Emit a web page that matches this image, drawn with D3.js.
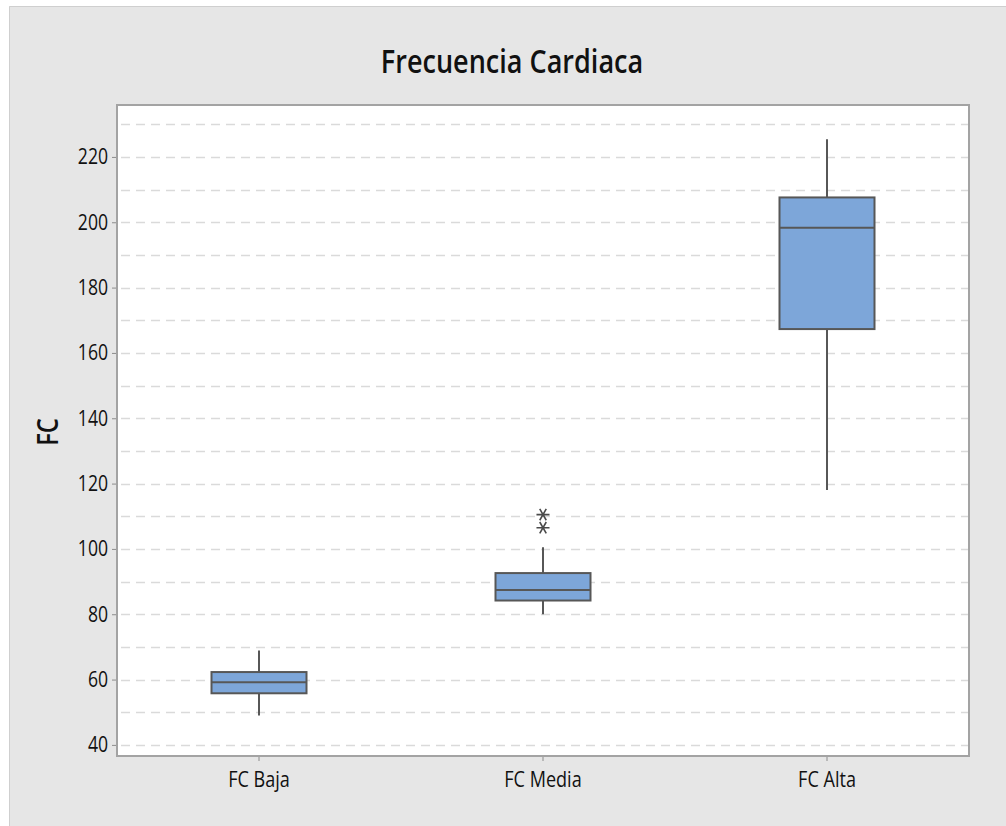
<!DOCTYPE html>
<html>
<head>
<meta charset="utf-8">
<script src="https://cdn.jsdelivr.net/npm/d3@7"></script>
<style>
  body { margin: 0; background: #fff; }
  text { font-family: "Open Sans", "Noto Sans", sans-serif; }
</style>
</head>
<body>
<div id="chart"></div>
<script>
    // data
    const groups = ["FC Baja", "FC Media", "FC Alta"];
    const whiskerLow = [49, 80, 118];
    const q1 = [55.8, 84.2, 167.3];
    const median = [59.2, 87.4, 198.3];
    const q3 = [62.3, 92.6, 207.6];
    const whiskerHigh = [68.9, 100.5, 225.4];
    const outliers = [[], [110.5, 106.5], []];
    const yTicks = [40, 60, 80, 100, 120, 140, 160, 180, 200, 220];
    const gridValues = [40, 50, 60, 70, 80, 90, 100, 110, 120, 130, 140, 150, 160, 170, 180, 190, 200, 210, 220, 230];

    const width = 1006, height = 826;
    const plot = { left: 117, top: 105, right: 969, bottom: 756 };
    const squeeze = 0.8; // the original font is narrower than Open Sans

    const svg = d3.select("#chart").append("svg")
        .attr("width", width)
        .attr("height", height);

    // grey panel with thin border at top/left
    svg.append("rect")
        .attr("x", 9).attr("y", 6)
        .attr("width", width - 9).attr("height", height - 6)
        .attr("fill", "#e6e6e6");
    svg.append("path")
        .attr("d", `M9.5,${height} V6.5 H${width}`)
        .attr("fill", "none")
        .attr("stroke", "#cfcfcf");

    const x = d3.scaleBand()
        .domain(groups)
        .range([plot.left, plot.right]);

    const y = d3.scaleLinear()
        .domain([36.6, 235.9])
        .range([plot.bottom, plot.top]);

    svg.append("rect")
        .attr("x", plot.left).attr("y", plot.top)
        .attr("width", plot.right - plot.left)
        .attr("height", plot.bottom - plot.top)
        .attr("fill", "#fff");

    // dashed gridlines
    svg.append("g")
        .selectAll("line")
        .data(gridValues)
        .join("line")
        .attr("x1", plot.left + 4)
        .attr("x2", plot.right)
        .attr("y1", d => Math.round(y(d)) + 0.5)
        .attr("y2", d => Math.round(y(d)) + 0.5)
        .attr("stroke", "#dadada")
        .attr("stroke-width", 1.5)
        .attr("stroke-dasharray", "9,6");

    // y axis
    const yAxis = svg.append("g")
        .attr("transform", `translate(${plot.left},0)`)
        .call(d3.axisLeft(y).tickValues(yTicks).tickSize(5));
    yAxis.select(".domain").remove();
    yAxis.selectAll(".tick line").attr("stroke", "#8c8c8c");
    yAxis.selectAll(".tick text")
        .attr("font-size", 22)
        .attr("x", -9 / squeeze)
        .attr("transform", `scale(${squeeze},1)`)
        .attr("fill", "#111")
        .style("font-family", "'Open Sans', sans-serif");

    // x axis
    const xAxis = svg.append("g")
        .attr("transform", `translate(0,${plot.bottom})`)
        .call(d3.axisBottom(x).tickSize(5).tickPadding(11));
    xAxis.select(".domain").remove();
    xAxis.selectAll(".tick line").attr("stroke", "#8c8c8c");
    xAxis.selectAll(".tick text")
        .attr("font-size", 21)
        .attr("transform", "scale(0.86,1)")
        .attr("fill", "#111")
        .style("font-family", "'Open Sans', sans-serif");

    const boxW = 95;
    const stroke = "#575757";
    const boxes = svg.append("g")
        .selectAll("g")
        .data(groups.map((g, i) => ({ g, i })))
        .join("g")
        .attr("transform", d => `translate(${x(d.g) + x.bandwidth() / 2},0)`);

    boxes.append("line")
        .attr("y1", d => y(whiskerHigh[d.i]))
        .attr("y2", d => y(q3[d.i]))
        .attr("stroke", stroke).attr("stroke-width", 2);
    boxes.append("line")
        .attr("y1", d => y(q1[d.i]))
        .attr("y2", d => y(whiskerLow[d.i]))
        .attr("stroke", stroke).attr("stroke-width", 2);
    boxes.append("rect")
        .attr("x", -boxW / 2)
        .attr("width", boxW)
        .attr("y", d => y(q3[d.i]))
        .attr("height", d => y(q1[d.i]) - y(q3[d.i]))
        .attr("fill", "#7da6d9")
        .attr("stroke", stroke)
        .attr("stroke-width", 2);
    boxes.append("line")
        .attr("x1", -boxW / 2).attr("x2", boxW / 2)
        .attr("y1", d => y(median[d.i]))
        .attr("y2", d => y(median[d.i]))
        .attr("stroke", stroke).attr("stroke-width", 2);

    // outliers drawn as asterisks
    boxes.selectAll("path.out")
        .data(d => outliers[d.i])
        .join("path")
        .attr("class", "out")
        .attr("d", d3.symbol(d3.symbolAsterisk, 120))
        .attr("transform", d => `translate(0,${y(d)}) rotate(90)`)
        .attr("fill", "none")
        .attr("stroke", "#4a4a4a")
        .attr("stroke-width", 1.6);

    // frame
    svg.append("rect")
        .attr("x", plot.left).attr("y", plot.top)
        .attr("width", plot.right - plot.left)
        .attr("height", plot.bottom - plot.top)
        .attr("fill", "none")
        .attr("stroke", "#a3a3a3")
        .attr("stroke-width", 2);

    // title and y label
    svg.append("text")
        .attr("transform", "translate(512,73) scale(0.82,1)")
        .attr("text-anchor", "middle")
        .attr("font-size", 33)
        .attr("font-weight", 600)
        .attr("fill", "#111")
        .text("Frecuencia Cardiaca");

    svg.append("text")
        .attr("transform", "translate(58,432) rotate(-90) scale(0.85,1)")
        .attr("text-anchor", "middle")
        .attr("font-size", 28)
        .attr("font-weight", 600)
        .attr("fill", "#111")
        .text("FC");
</script>
</body>
</html>
